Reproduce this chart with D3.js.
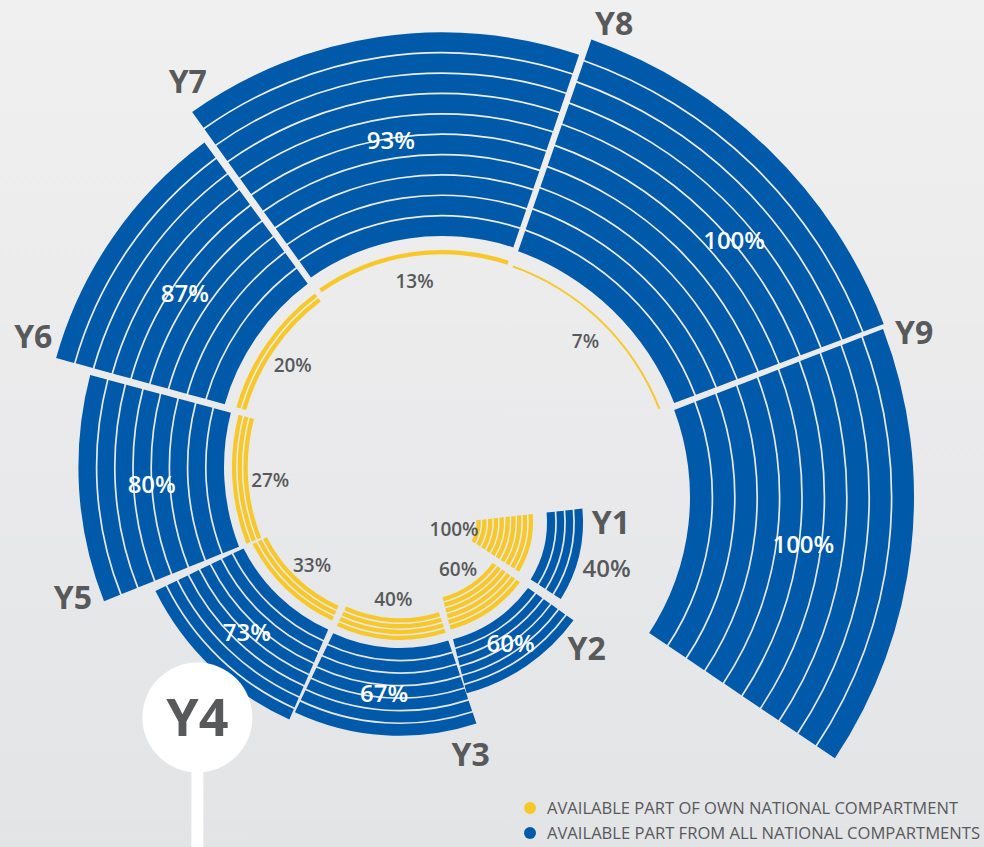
<!DOCTYPE html>
<html><head><meta charset="utf-8">
<script src="https://cdn.jsdelivr.net/npm/d3@7"></script>
<style>html,body{margin:0;padding:0;overflow:hidden;background:#ececec}svg{display:block}</style>
</head><body><script>
// ---------- DATA ----------
const years = ["Y1","Y2","Y3","Y4","Y5","Y6","Y7","Y8","Y9"];
const ownShare = [100, 60, 40, 33, 27, 20, 13, 7, 0];      // available part of own national compartment (%)
const allShare = [40, 60, 67, 73, 80, 87, 93, 100, 100];  // available part from all national compartments (%)
const legendLabels = ["AVAILABLE PART OF OWN NATIONAL COMPARTMENT", "AVAILABLE PART FROM ALL NATIONAL COMPARTMENTS"];

// ---------- LAYOUT (spiral geometry, not data) ----------
// each year sits on its own arc: centre, angular span (deg, clockwise from north),
// inner radius, pixels that 100% would take, gap to the yellow ring, label position fraction
const layout = [
  {cx:438, cy:522, a0:83.7,  a1:123.1, rIn:109, k:90,  yGap:14, lf:0.5},
  {cx:417, cy:506, a0:125.4, a1:165.9, rIn:138, k:93,  yGap:10, lf:0.5},
  {cx:400, cy:490, a0:161.3, a1:205.9, rIn:158, k:131, yGap:8,  lf:0.52},
  {cx:400, cy:470, a0:203.4, a1:244.2, rIn:175, k:134, yGap:10, lf:0.49},
  {cx:443, cy:467, a0:248,   a1:285,   rIn:219, k:182, yGap:8,  lf:0.5},
  {cx:445, cy:467, a0:285.3, a1:323.8, rIn:229, k:201, yGap:12, lf:0.48},
  {cx:442, cy:464, a0:324.3, a1:378.85,rIn:228, k:219, yGap:14, lf:0.49},
  {cx:430, cy:498, a0:379.1, a1:429.3, rIn:262, k:224, yGap:15, lf:0.61},
  {cx:443, cy:497, a0:428.8, a1:484,   rIn:247, k:224, yGap:10, lf:0.52}
];

const W = 984, H = 847;
const BLUE = "#005aa9", YELLOW = "#f6c829", GREY = "#58595b";
const SEP = 5, LINE = 1.7, YLINE = 1.5;
const FONT = "'Open Sans', 'Noto Sans', sans-serif";
const rad = d3.scaleLinear().domain([0, 360]).range([0, 2 * Math.PI]);

const svg = d3.select("body").append("svg").attr("width", W).attr("height", H);
const defs = svg.append("defs");
const grad = defs.append("linearGradient").attr("id", "bg").attr("x1", 0).attr("y1", 0).attr("x2", 0).attr("y2", 1);
grad.append("stop").attr("offset", "0%").attr("stop-color", "#f0f0f0");
grad.append("stop").attr("offset", "100%").attr("stop-color", "#e3e4e6");
svg.append("rect").attr("width", W).attr("height", H).attr("fill", "url(#bg)");

const segs = years.map((y, i) => Object.assign({year: y, own: ownShare[i], all: allShare[i], i}, layout[i]));

const polar = (s, angDeg, r) => [s.cx + r * Math.sin(rad(angDeg)), s.cy - r * Math.cos(rad(angDeg))];

segs.forEach(s => {
  const g = svg.append("g").attr("transform", `translate(${s.cx},${s.cy})`);
  const radial = d3.scaleLinear().domain([0, 100]).range([s.rIn, s.rIn + s.k]);
  s.rOut = radial(s.all);
  const n = Math.ceil(s.all / 10);
  const bw = (s.rOut - s.rIn) / n;
  const bands = d3.range(n).map(b => ({
    r0: s.rIn + b * bw + (b > 0 ? LINE / 2 : 0),
    r1: s.rIn + (b + 1) * bw - (b < n - 1 ? LINE / 2 : 0)
  }));
  const arc = d3.arc()
    .startAngle(rad(s.a0)).endAngle(rad(s.a1))
    .padAngle(SEP / 100).padRadius(100)
    .innerRadius(d => d.r0).outerRadius(d => d.r1);
  g.selectAll("path.blue").data(bands).join("path").attr("class", "blue")
    .attr("d", arc).attr("fill", BLUE);

  // yellow stripes
  if (s.own > 0) {
    const ny = Math.max(1, Math.round(s.own / 10));
    const sw = s.own < 10 ? 2 : 4.3;
    const yOut = s.rIn - s.yGap;
    const stripes = d3.range(ny).map(k => ({r1: yOut - k * (sw + YLINE), r0: yOut - k * (sw + YLINE) - sw}));
    s.yIn = yOut - ny * sw - (ny - 1) * YLINE;
    g.selectAll("path.yel").data(stripes).join("path").attr("class", "yel")
      .attr("d", arc).attr("fill", YELLOW);
  }
});

// ---------- LABELS ----------
const yearSize = 32;
segs.forEach(s => {
  const thick = s.rOut - s.rIn;
  const mid = s.a0 + s.lf * (s.a1 - s.a0);
  // blue value label
  let p, fill;
  if (thick < 50) { p = polar(s, (s.a0 + s.a1) / 2 + 2, s.rOut + 30); fill = GREY; }
  else { p = polar(s, mid, s.rIn + s.lf * thick); fill = "#fff"; }
  svg.append("text").attr("x", p[0]).attr("y", p[1]).attr("dy", "0.36em")
    .attr("text-anchor", "middle").attr("font-family", FONT).attr("font-weight", 600)
    .attr("font-size", 24).attr("fill", fill).text(s.all + "%");
  // yellow value label
  if (s.own > 0) {
    const q = polar(s, (s.a0 + s.a1) / 2, s.yIn - 22);
    svg.append("text").attr("x", q[0]).attr("y", q[1] + 3).attr("dy", "0.36em")
      .attr("text-anchor", "middle").attr("font-family", FONT).attr("font-weight", 600)
      .attr("font-size", 19).attr("fill", GREY).text(s.own + "%");
  }
  // year label
  if (s.year !== "Y4") {
    const ang = s.a0 + (16 / s.rOut) * 180 / Math.PI;
    const t = polar(s, ang, s.rOut + 28);
    // keep the whole glyph box inside the picture
    const base = Math.max(t[1] + 0.36 * yearSize, 1.09 * yearSize);
    svg.append("text").attr("x", t[0]).attr("y", base)
      .attr("text-anchor", "middle").attr("font-family", FONT).attr("font-weight", 700)
      .attr("font-size", yearSize).attr("fill", GREY).text(s.year);
  } else {
    const b = polar(s, s.a0 + 0.39 * (s.a1 - s.a0), s.rOut + 47);
    svg.append("rect").attr("x", b[0] - 6).attr("y", b[1]).attr("width", 12).attr("height", H - b[1]).attr("fill", "#fff");
    svg.append("circle").attr("cx", b[0]).attr("cy", b[1]).attr("r", 55).attr("fill", "#fff");
    svg.append("text").attr("x", b[0]).attr("y", b[1]).attr("dy", "0.36em")
      .attr("text-anchor", "middle").attr("font-family", FONT).attr("font-weight", 700)
      .attr("font-size", 52).attr("fill", GREY).text(s.year);
  }
});

// ---------- LEGEND ----------
const lg = svg.append("g").attr("transform", "translate(530,808)");
const lcol = [YELLOW, BLUE];
const lw = [411, 433];
legendLabels.forEach((t, i) => {
  lg.append("circle").attr("cx", 0).attr("cy", i * 25).attr("r", 6).attr("fill", lcol[i]);
  lg.append("text").attr("x", 17).attr("y", i * 25).attr("dy", "0.36em")
    .attr("font-family", FONT).attr("font-size", 16.5).attr("fill", GREY)
    .attr("textLength", lw[i]).attr("lengthAdjust", "spacingAndGlyphs").text(t);
});
</script></body></html>
